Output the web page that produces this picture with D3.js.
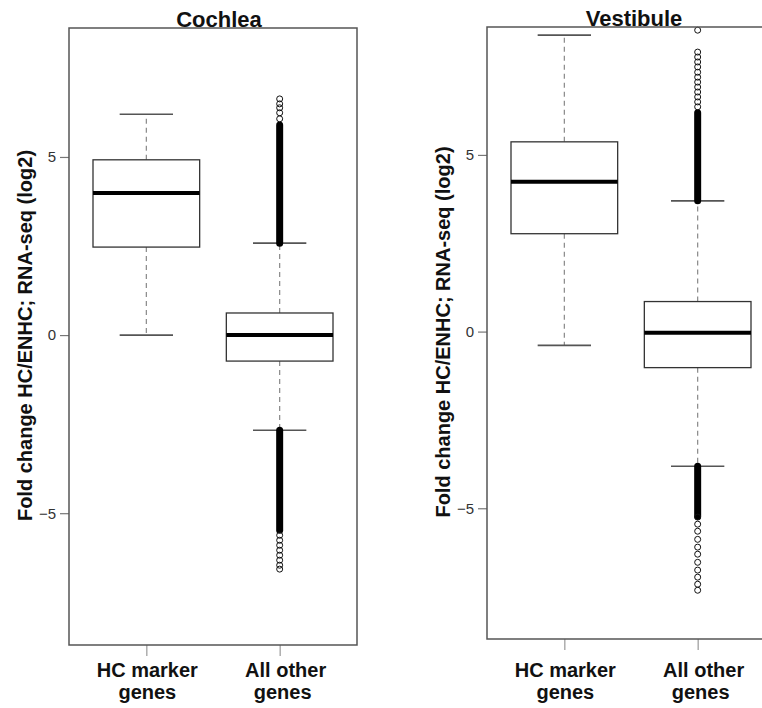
<!DOCTYPE html>
<html>
<head>
<meta charset="utf-8">
<script src="https://cdn.jsdelivr.net/npm/d3@7"></script>
<style>
  body { margin: 0; background: #fff; }
  svg { display: block; font-family: 'Liberation Sans', Arial, sans-serif; }
</style>
</head>
<body>
<div id="chart"></div>
<script>
// panel titles and group labels
const panelTitles = ['Cochlea', 'Vestibule']
const groupLabels = [['HC marker', 'genes'], ['All other', 'genes']]
const yTicks = [-5, 0, 5]
const yLabel = 'Fold change HC/ENHC; RNA-seq (log2)'

// [lower whisker, Q1, median, Q3, upper whisker] per group
const cochleaBoxes = [[0.0, 2.47, 3.99, 4.92, 6.2], [-2.67, -0.73, 0.0, 0.62, 2.58]]
const vestibuleBoxes = [[-0.39, 2.77, 4.24, 5.37, 8.39], [-3.81, -1.02, -0.03, 0.85, 3.70]]

// runs of outliers so dense they merge into a solid bar (All other genes)
const cochleaDenseOutliers = [[2.58, 5.9], [-5.48, -2.67]]
const vestibuleDenseOutliers = [[3.70, 6.19], [-5.23, -3.81]]

// individually visible outliers (All other genes)
const cochleaOutliers = [6.07, 6.24, 6.38, 6.49, 6.63,
  -5.62, -5.76, -5.90, -6.04, -6.18, -6.32, -6.46, -6.57]
const vestibuleOutliers = [8.53, 7.91, 7.77, 7.63, 7.49, 7.34, 7.20, 7.06, 6.92, 6.78, 6.64, 6.50, 6.36,
  -5.25, -5.45, -5.65, -5.88, -6.10, -6.30, -6.53, -6.75, -6.95, -7.15, -7.32]

const yDomain = [-8.7, 8.62]

const panels = [
  { title: panelTitles[0], boxes: cochleaBoxes, dense: cochleaDenseOutliers, outliers: cochleaOutliers,
    left: 69, right: 357, top: 28, bottom: 645, titleX: 219, labelX: 32 },
  { title: panelTitles[1], boxes: vestibuleBoxes, dense: vestibuleDenseOutliers, outliers: vestibuleOutliers,
    left: 487, right: 775, top: 27, bottom: 639, titleX: 634, labelX: 450 }
]

const width = 762
const height = 708
const groupLabelY = 677
const groupLineGap = 22

const svg = d3.select('#chart').append('svg')
  .attr('width', width)
  .attr('height', height)

panels.forEach(p => {
  const g = svg.append('g')

  const xScale = d3.scaleLinear()
    .domain([0.42, 2.58])
    .range([p.left, p.right])
  const yScale = d3.scaleLinear()
    .domain(yDomain)
    .range([p.bottom, p.top])

  // y axis
  const yAxis = g.append('g')
    .attr('transform', `translate(${p.left},0)`)
    .call(d3.axisLeft(yScale).tickValues(yTicks).tickSize(9).tickPadding(4).tickFormat(d3.format('d')))
  yAxis.select('.domain').remove()
  yAxis.selectAll('line').attr('stroke', '#777').attr('stroke-width', 1.2)
  yAxis.selectAll('text')
    .attr('fill', '#333')
    .style('font-size', '15px')
    .style('font-family', "'Liberation Sans', Arial, sans-serif")

  // x axis ticks
  const xAxis = g.append('g')
    .attr('transform', `translate(0,${p.bottom})`)
    .call(d3.axisBottom(xScale).tickValues([1, 2]).tickSize(11).tickFormat(''))
  xAxis.select('.domain').remove()
  xAxis.selectAll('line').attr('stroke', '#999').attr('stroke-width', 1.2)

  // group labels, two lines each
  const lab = g.selectAll('.glabel')
    .data(groupLabels)
    .join('text')
    .attr('class', 'glabel')
    .attr('text-anchor', 'middle')
    .attr('font-weight', 'bold')
    .attr('font-size', 20)
    .attr('fill', '#111')
  lab.selectAll('tspan')
    .data((d, i) => d.map((t, j) => ({ t, i, j })))
    .join('tspan')
    .attr('x', d => xScale(d.i + 1) + (d.i === 1 ? (d.j === 0 ? 6 : 3) : 1))
    .attr('y', d => groupLabelY + d.j * groupLineGap)
    .text(d => d.t)

  // whiskers (dashed)
  const boxW = 0.8
  const capW = 0.4
  p.boxes.forEach((b, i) => {
    const cx = xScale(i + 1)
    g.append('line')
      .attr('x1', cx).attr('x2', cx)
      .attr('y1', yScale(b[3])).attr('y2', yScale(b[4]))
      .attr('stroke', '#888').attr('stroke-width', 1.2).attr('stroke-dasharray', '5,4')
    g.append('line')
      .attr('x1', cx).attr('x2', cx)
      .attr('y1', yScale(b[1])).attr('y2', yScale(b[0]))
      .attr('stroke', '#888').attr('stroke-width', 1.2).attr('stroke-dasharray', '5,4')
    // caps
    ;[b[0], b[4]].forEach(v => {
      g.append('line')
        .attr('x1', xScale(i + 1 - capW / 2)).attr('x2', xScale(i + 1 + capW / 2))
        .attr('y1', yScale(v)).attr('y2', yScale(v))
        .attr('stroke', '#555').attr('stroke-width', 1.6)
    })
  })

  // outliers for second group
  const ox = xScale(2)
  g.selectAll('.dense')
    .data(p.dense)
    .join('line')
    .attr('class', 'dense')
    .attr('x1', ox).attr('x2', ox)
    .attr('y1', d => yScale(d[0]))
    .attr('y2', d => yScale(d[1]))
    .attr('stroke', '#000')
    .attr('stroke-width', 7)
    .attr('stroke-linecap', 'round')
  g.selectAll('.outlier')
    .data(p.outliers)
    .join('circle')
    .attr('class', 'outlier')
    .attr('cx', ox)
    .attr('cy', d => yScale(d))
    .attr('r', 3)
    .attr('fill', 'none')
    .attr('stroke', '#111')
    .attr('stroke-width', 1)

  // boxes
  p.boxes.forEach((b, i) => {
    g.append('rect')
      .attr('x', xScale(i + 1 - boxW / 2))
      .attr('width', xScale(i + 1 + boxW / 2) - xScale(i + 1 - boxW / 2))
      .attr('y', yScale(b[3]))
      .attr('height', yScale(b[1]) - yScale(b[3]))
      .attr('fill', '#fff')
      .attr('stroke', '#333')
      .attr('stroke-width', 1.3)
    g.append('line')
      .attr('x1', xScale(i + 1 - boxW / 2)).attr('x2', xScale(i + 1 + boxW / 2))
      .attr('y1', yScale(b[2])).attr('y2', yScale(b[2]))
      .attr('stroke', '#000').attr('stroke-width', 4)
  })

  // frame
  g.append('rect')
    .attr('x', p.left).attr('y', p.top)
    .attr('width', p.right - p.left).attr('height', p.bottom - p.top)
    .attr('fill', 'none')
    .attr('stroke', '#555')
    .attr('stroke-width', 1.5)

  // title
  g.append('text')
    .attr('x', p.titleX).attr('y', p.top - 1)
    .attr('text-anchor', 'middle')
    .attr('font-weight', 'bold')
    .attr('font-size', 22)
    .attr('fill', '#111')
    .text(p.title)

  // y label
  const cy = (p.top + p.bottom) / 2 - 1
  g.append('text')
    .attr('transform', `translate(${p.labelX},${cy}) rotate(-90)`)
    .attr('text-anchor', 'middle')
    .attr('font-weight', 'bold')
    .attr('font-size', 20)
    .attr('fill', '#111')
    .text(yLabel)
})
</script>
</body>
</html>
